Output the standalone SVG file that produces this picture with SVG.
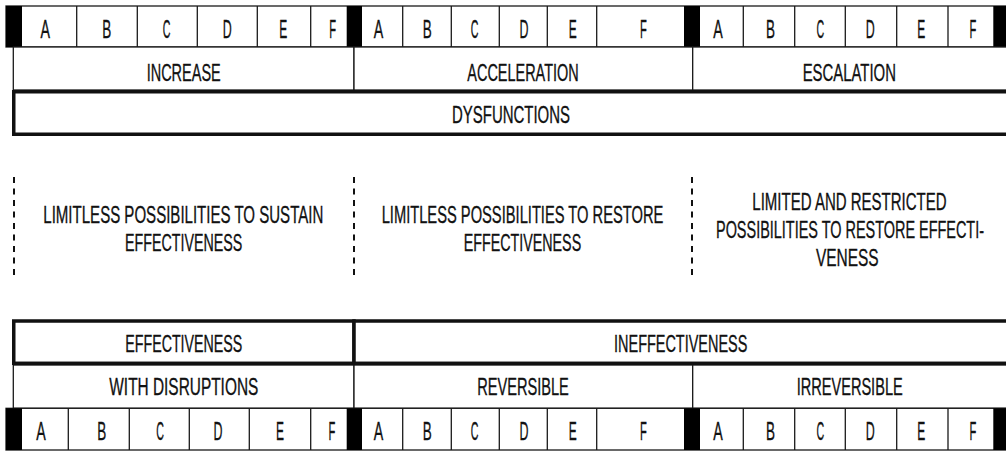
<svg xmlns="http://www.w3.org/2000/svg" width="1006" height="452" viewBox="0 0 1006 452">
<style>
.bg{fill:#fff}
.thin{fill:#fff;stroke:#1a1a1a;stroke-width:1.3}
.thick{fill:#fff;stroke:#111;stroke-width:3.5}
.div{stroke:#1a1a1a;stroke-width:1.3}
.blk{fill:#000}
.sep{stroke:#111;stroke-width:2;stroke-dasharray:6 5.5}
text{font-family:"Liberation Sans",Arial,sans-serif;fill:#111;stroke:#111;stroke-width:0.35;text-anchor:middle}
.lbl{font-size:24.5px}
.let{font-size:25.5px}
</style>
<rect class="bg" x="0" y="0" width="1006" height="452"/>

<g id="top-scale">
  <rect class="thin" x="6" y="6" width="1010" height="41"/>
  <rect class="blk" x="6" y="6" width="16" height="41"/>
  <rect class="blk" x="346.7" y="6" width="15.3" height="41"/>
  <rect class="blk" x="684" y="6" width="16" height="41"/>
  <rect class="blk" x="993.3" y="6" width="14" height="41"/>
  <g class="div">
    <line x1="76.7" y1="6" x2="76.7" y2="47"/><line x1="137.3" y1="6" x2="137.3" y2="47"/>
    <line x1="197.3" y1="6" x2="197.3" y2="47"/><line x1="257.3" y1="6" x2="257.3" y2="47"/>
    <line x1="310.7" y1="6" x2="310.7" y2="47"/>
    <line x1="402.7" y1="6" x2="402.7" y2="47"/><line x1="451.3" y1="6" x2="451.3" y2="47"/>
    <line x1="499.3" y1="6" x2="499.3" y2="47"/><line x1="547.3" y1="6" x2="547.3" y2="47"/>
    <line x1="596.7" y1="6" x2="596.7" y2="47"/>
    <line x1="743.3" y1="6" x2="743.3" y2="47"/><line x1="794.7" y1="6" x2="794.7" y2="47"/>
    <line x1="845.3" y1="6" x2="845.3" y2="47"/><line x1="896.7" y1="6" x2="896.7" y2="47"/>
    <line x1="948" y1="6" x2="948" y2="47"/>
  </g>
  <g class="let">
    <text x="45.3" y="37.5" textLength="9.5" lengthAdjust="spacingAndGlyphs">A</text>
    <text x="106.7" y="37.5" textLength="9" lengthAdjust="spacingAndGlyphs">B</text>
    <text x="166.7" y="37.5" textLength="7.7" lengthAdjust="spacingAndGlyphs">C</text>
    <text x="227.3" y="37.5" textLength="9" lengthAdjust="spacingAndGlyphs">D</text>
    <text x="283.3" y="37.5" textLength="8" lengthAdjust="spacingAndGlyphs">E</text>
    <text x="332.7" y="37.5" textLength="6.8" lengthAdjust="spacingAndGlyphs">F</text>
    <text x="378.5" y="37.5" textLength="9.5" lengthAdjust="spacingAndGlyphs">A</text>
    <text x="427.3" y="37.5" textLength="9" lengthAdjust="spacingAndGlyphs">B</text>
    <text x="474.5" y="37.5" textLength="7.7" lengthAdjust="spacingAndGlyphs">C</text>
    <text x="524" y="37.5" textLength="9" lengthAdjust="spacingAndGlyphs">D</text>
    <text x="572.7" y="37.5" textLength="8" lengthAdjust="spacingAndGlyphs">E</text>
    <text x="643.5" y="37.5" textLength="6.8" lengthAdjust="spacingAndGlyphs">F</text>
    <text x="718" y="37.5" textLength="9.5" lengthAdjust="spacingAndGlyphs">A</text>
    <text x="770.5" y="37.5" textLength="9" lengthAdjust="spacingAndGlyphs">B</text>
    <text x="820.3" y="37.5" textLength="7.7" lengthAdjust="spacingAndGlyphs">C</text>
    <text x="870.3" y="37.5" textLength="9" lengthAdjust="spacingAndGlyphs">D</text>
    <text x="921.3" y="37.5" textLength="8" lengthAdjust="spacingAndGlyphs">E</text>
    <text x="973" y="37.5" textLength="6.8" lengthAdjust="spacingAndGlyphs">F</text>
  </g>
</g>

<g id="increase">
  <rect class="thin" x="13.3" y="47" width="340.7" height="43"/>
  <text class="lbl" x="183.7" y="81" textLength="74" lengthAdjust="spacingAndGlyphs">INCREASE</text>
</g>
<g id="acceleration">
  <rect class="thin" x="354" y="47" width="338.7" height="43"/>
  <text class="lbl" x="523" y="81" textLength="111.3" lengthAdjust="spacingAndGlyphs">ACCELERATION</text>
</g>
<g id="escalation">
  <rect class="thin" x="692.7" y="47" width="330" height="43"/>
  <text class="lbl" x="849.3" y="81" textLength="93.3" lengthAdjust="spacingAndGlyphs">ESCALATION</text>
</g>

<g id="dysfunctions">
  <rect class="thick" x="13.75" y="91.75" width="1010" height="42.5"/>
  <text class="lbl" x="511" y="123.3" textLength="118" lengthAdjust="spacingAndGlyphs">DYSFUNCTIONS</text>
</g>

<g id="connectors">
  <line class="sep" x1="14" y1="177" x2="14" y2="279"/>
  <line class="sep" x1="354" y1="177" x2="354" y2="279"/>
  <line class="sep" x1="692" y1="177" x2="692" y2="279"/>
</g>

<g id="sustain">
  <text class="lbl" x="183.3" y="223.3" textLength="280" lengthAdjust="spacingAndGlyphs">LIMITLESS POSSIBILITIES TO SUSTAIN</text>
  <text class="lbl" x="183.7" y="250.7" textLength="117.3" lengthAdjust="spacingAndGlyphs">EFFECTIVENESS</text>
</g>
<g id="restore">
  <text class="lbl" x="522.5" y="223.3" textLength="281.7" lengthAdjust="spacingAndGlyphs">LIMITLESS POSSIBILITIES TO RESTORE</text>
  <text class="lbl" x="522.5" y="250.7" textLength="117.3" lengthAdjust="spacingAndGlyphs">EFFECTIVENESS</text>
</g>
<g id="limited">
  <text class="lbl" x="849.5" y="210" textLength="194.3" lengthAdjust="spacingAndGlyphs">LIMITED AND RESTRICTED</text>
  <text class="lbl" x="850" y="238.3" textLength="268" lengthAdjust="spacingAndGlyphs">POSSIBILITIES TO RESTORE EFFECTI-</text>
  <text class="lbl" x="847.3" y="266" textLength="62.7" lengthAdjust="spacingAndGlyphs">VENESS</text>
</g>

<g id="with-disruptions">
  <rect class="thin" x="13.3" y="365" width="340.7" height="43.3"/>
  <text class="lbl" x="183.8" y="395" textLength="149" lengthAdjust="spacingAndGlyphs">WITH DISRUPTIONS</text>
</g>
<g id="reversible">
  <rect class="thin" x="354" y="365" width="338.7" height="43.3"/>
  <text class="lbl" x="523" y="395" textLength="91.7" lengthAdjust="spacingAndGlyphs">REVERSIBLE</text>
</g>
<g id="irreversible">
  <rect class="thin" x="692.7" y="365" width="330" height="43.3"/>
  <text class="lbl" x="849.7" y="395" textLength="106" lengthAdjust="spacingAndGlyphs">IRREVERSIBLE</text>
</g>

<g id="effectiveness">
  <rect class="thick" x="13.75" y="321" width="340.25" height="42.3"/>
  <text class="lbl" x="183.8" y="351.7" textLength="117" lengthAdjust="spacingAndGlyphs">EFFECTIVENESS</text>
</g>
<g id="ineffectiveness">
  <rect class="thick" x="354" y="321" width="670" height="42.3"/>
  <text class="lbl" x="680.7" y="351.7" textLength="133.3" lengthAdjust="spacingAndGlyphs">INEFFECTIVENESS</text>
</g>

<g id="bottom-scale">
  <rect class="thin" x="6" y="408.3" width="1010" height="41.7"/>
  <rect class="blk" x="6" y="408.3" width="16" height="41.7"/>
  <rect class="blk" x="346.7" y="408.3" width="15.3" height="41.7"/>
  <rect class="blk" x="684" y="408.3" width="16" height="41.7"/>
  <rect class="blk" x="993.3" y="408.3" width="14" height="41.7"/>
  <g class="div">
    <line x1="68.3" y1="408.3" x2="68.3" y2="450"/><line x1="129.3" y1="408.3" x2="129.3" y2="450"/>
    <line x1="189.3" y1="408.3" x2="189.3" y2="450"/><line x1="249.3" y1="408.3" x2="249.3" y2="450"/>
    <line x1="310.7" y1="408.3" x2="310.7" y2="450"/>
    <line x1="402.7" y1="408.3" x2="402.7" y2="450"/><line x1="451.3" y1="408.3" x2="451.3" y2="450"/>
    <line x1="499.3" y1="408.3" x2="499.3" y2="450"/><line x1="547.3" y1="408.3" x2="547.3" y2="450"/>
    <line x1="596.7" y1="408.3" x2="596.7" y2="450"/>
    <line x1="743.3" y1="408.3" x2="743.3" y2="450"/><line x1="794.7" y1="408.3" x2="794.7" y2="450"/>
    <line x1="845.3" y1="408.3" x2="845.3" y2="450"/><line x1="896.7" y1="408.3" x2="896.7" y2="450"/>
    <line x1="948" y1="408.3" x2="948" y2="450"/>
  </g>
  <g class="let">
    <text x="41" y="440" textLength="9.5" lengthAdjust="spacingAndGlyphs">A</text>
    <text x="101.7" y="440" textLength="9" lengthAdjust="spacingAndGlyphs">B</text>
    <text x="160" y="440" textLength="7.7" lengthAdjust="spacingAndGlyphs">C</text>
    <text x="218" y="440" textLength="9" lengthAdjust="spacingAndGlyphs">D</text>
    <text x="280" y="440" textLength="8" lengthAdjust="spacingAndGlyphs">E</text>
    <text x="332" y="440" textLength="6.8" lengthAdjust="spacingAndGlyphs">F</text>
    <text x="378.5" y="440" textLength="9.5" lengthAdjust="spacingAndGlyphs">A</text>
    <text x="427.3" y="440" textLength="9" lengthAdjust="spacingAndGlyphs">B</text>
    <text x="474.5" y="440" textLength="7.7" lengthAdjust="spacingAndGlyphs">C</text>
    <text x="524" y="440" textLength="9" lengthAdjust="spacingAndGlyphs">D</text>
    <text x="572.7" y="440" textLength="8" lengthAdjust="spacingAndGlyphs">E</text>
    <text x="643.5" y="440" textLength="6.8" lengthAdjust="spacingAndGlyphs">F</text>
    <text x="718" y="440" textLength="9.5" lengthAdjust="spacingAndGlyphs">A</text>
    <text x="770.5" y="440" textLength="9" lengthAdjust="spacingAndGlyphs">B</text>
    <text x="820.3" y="440" textLength="7.7" lengthAdjust="spacingAndGlyphs">C</text>
    <text x="870.3" y="440" textLength="9" lengthAdjust="spacingAndGlyphs">D</text>
    <text x="921.3" y="440" textLength="8" lengthAdjust="spacingAndGlyphs">E</text>
    <text x="973" y="440" textLength="6.8" lengthAdjust="spacingAndGlyphs">F</text>
  </g>
</g>
</svg>
